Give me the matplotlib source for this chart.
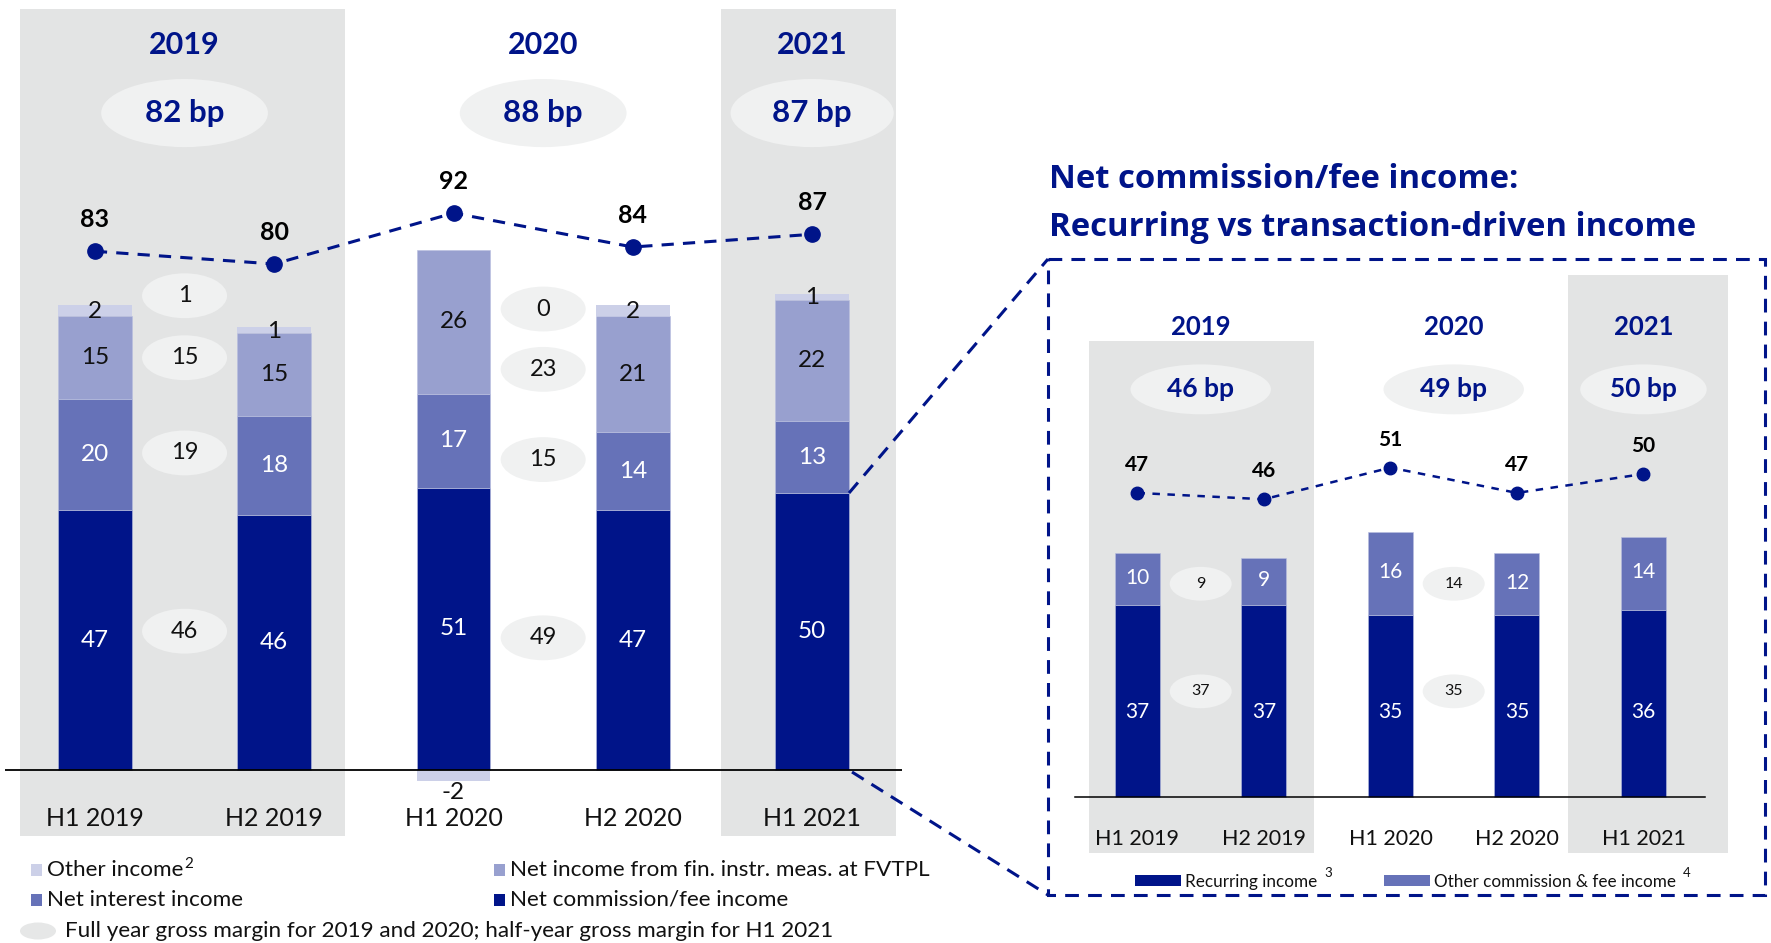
import matplotlib
matplotlib.use("Agg")
import matplotlib.pyplot as plt
from matplotlib.patches import Ellipse, Rectangle

plt.rcParams['font.family'] = ['Lato', 'DejaVu Sans']

# ---------------- data ----------------
periods = ["H1 2019", "H2 2019", "H1 2020", "H2 2020", "H1 2021"]
net_commission = [47, 46, 51, 47, 50]
net_interest = [20, 18, 17, 14, 13]
fvtpl = [15, 15, 26, 21, 22]
other_income = [2, 1, -2, 2, 1]
gross_margin_half = [83, 80, 92, 84, 87]

years = ["2019", "2020", "2021"]
year_margin = ["82 bp", "88 bp", "87 bp"]
fy2019_parts = [46, 19, 15, 1]   # commission, interest, fvtpl, other
fy2020_parts = [49, 15, 23, 0]

recurring = [37, 37, 35, 35, 36]
other_commission = [10, 9, 16, 12, 14]
commission_margin_half = [47, 46, 51, 47, 50]
year_commission_margin = ["46 bp", "49 bp", "50 bp"]
fy2019_comm_parts = [37, 9]
fy2020_comm_parts = [35, 14]

# ---------------- style ----------------
NAVY = "#001489"
NII = "#6672B8"
FV = "#98A0CF"
OTH = "#CCD0E8"
BAND = "#E3E4E4"
ELL = "#F0F1F1"
EDGE = "#B8BEDF"

W, H = 1771, 943
fig = plt.figure(figsize=(W / 100, H / 100), dpi=100)


def rect(x0, y0, x1, y1):
    return [x0 / W, 1 - y1 / H, (x1 - x0) / W, (y1 - y0) / H]


# ================= LEFT CHART =================
axL = fig.add_axes(rect(5.25, 9, 901.8, 836))
axL.set_xlim(-0.5, 4.5)
axL.set_ylim(-11.9, 137.5)
axL.axis("off")
axL.axvspan(-0.416, 1.392, color=BAND, zorder=0, lw=0)
axL.axvspan(3.49, 4.466, color=BAND, zorder=0, lw=0)

x = list(range(len(periods)))
bw = 0.41
b1 = net_commission
b2 = [a + b for a, b in zip(b1, net_interest)]
b3 = [a + b for a, b in zip(b2, fvtpl)]
axL.bar(x, net_commission, bw, color=NAVY, zorder=2, edgecolor=EDGE, lw=0.4)
axL.bar(x, net_interest, bw, bottom=b1, color=NII, zorder=2, edgecolor=EDGE, lw=0.4)
axL.bar(x, fvtpl, bw, bottom=b2, color=FV, zorder=2, edgecolor=EDGE, lw=0.4)
oth_bottom = [b3[i] if other_income[i] >= 0 else 0 for i in x]
axL.bar(x, other_income, bw, bottom=oth_bottom, color=OTH, zorder=2, lw=0)
axL.plot([-0.5, 4.5], [0, 0], color="black", lw=1.3, zorder=3)

lab_fs = 17.5
for i in x:
    axL.text(i, net_commission[i] / 2, str(net_commission[i]), ha="center", va="center",
             color="white", fontsize=lab_fs, zorder=4)
    axL.text(i, b1[i] + net_interest[i] / 2, str(net_interest[i]), ha="center", va="center",
             color="white", fontsize=lab_fs, zorder=4)
    axL.text(i, b2[i] + fvtpl[i] / 2, str(fvtpl[i]), ha="center", va="center",
             color="#111111", fontsize=lab_fs, zorder=4)
    o = other_income[i]
    if o >= 0:
        axL.text(i, b3[i] + o / 2 - 0.2, str(o), ha="center", va="center",
                 color="#111111", fontsize=lab_fs, zorder=4)
    else:
        axL.text(i, o - 2.0, str(o), ha="center", va="center",
                 color="#111111", fontsize=lab_fs, zorder=4)
    axL.text(i, -8.7, periods[i], ha="center", va="center", fontsize=18, color="#111111")

# year headers
year_x = [0.5, 2.5, 4.0]
year_w = [0.93, 0.93, 0.91]
for xx, yl, ym, ww in zip(year_x, years, year_margin, year_w):
    axL.text(xx, 131, yl, ha="center", va="center", fontsize=22, fontweight="bold", color=NAVY)
    axL.add_patch(Ellipse((xx, 118.7), ww, 12.3, color=ELL, lw=0, zorder=1))
    axL.text(xx, 118.7, ym, ha="center", va="center", fontsize=22.5, fontweight="bold", color=NAVY,
             zorder=2)

# full-year ellipses (layout positions)
for xx, parts, yy in [(0.5, fy2019_parts, [25.1, 57.3, 74.5, 85.7]),
                      (2.5, fy2020_parts, [23.9, 56.1, 72.4, 83.3])]:
    for v, yv in zip(parts, yy):
        axL.add_patch(Ellipse((xx, yv), 0.474, 8.1, color=ELL, lw=0, zorder=1))
        axL.text(xx, yv, str(v), ha="center", va="center", fontsize=17, color="#111111", zorder=2)

# gross margin line (own scale)
axL2 = axL.twinx()
axL2.set_ylim((603.6 - 836) / 4.245, (603.6 - 9) / 4.245)
axL2.set_xlim(-0.5, 4.5)
axL2.axis("off")
axL2.plot(x, gross_margin_half, color=NAVY, lw=2.2, ls=(0, (4, 3)), marker="o", ms=11, zorder=5)
for i in x:
    axL2.annotate(str(gross_margin_half[i]), (i, gross_margin_half[i]), xytext=(0, 23),
                  textcoords="offset points", ha="center", va="center", fontsize=18,
                  fontweight="bold", color="black")

# ================= RIGHT CHART =================
axR = fig.add_axes(rect(1074.2, 275, 1732, 853))
axR.set_xlim(-0.5, 4.7)
axR.set_ylim(-10.7, 100.5)
axR.axis("off")
axR.add_patch(Rectangle((-0.384, -10.7), 1.777, 98.55, color=BAND, lw=0, zorder=0))
axR.axvspan(3.40, 4.67, color=BAND, zorder=0, lw=0)

bwR = 0.356
axR.bar(x, recurring, bwR, color=NAVY, zorder=2, edgecolor=EDGE, lw=0.4)
axR.bar(x, other_commission, bwR, bottom=recurring, color=NII, zorder=2, edgecolor=EDGE, lw=0.4)
axR.plot([-0.493, 4.49], [0, 0], color="black", lw=1.1, zorder=3)
for i in x:
    axR.text(i, 16.5, str(recurring[i]), ha="center", va="center", color="white", fontsize=15, zorder=4)
    axR.text(i, recurring[i] + other_commission[i] / 2 + 0.3, str(other_commission[i]), ha="center",
             va="center", color="white", fontsize=15, zorder=4)
    axR.text(i, -8.0, periods[i], ha="center", va="center", fontsize=15.5, color="#111111")

yearR_x = [0.5, 2.5, 4.0]
for xx, yl, ym in zip(yearR_x, years, year_commission_margin):
    axR.text(xx, 90.4, yl, ha="center", va="center", fontsize=18.5, fontweight="bold", color=NAVY)
    axR.add_patch(Ellipse((xx, 78.5), 1.0 if yl == "2021" else 1.11, 9.6, color=ELL, lw=0, zorder=1))
    axR.text(xx, 78.5, ym, ha="center", va="center", fontsize=19, fontweight="bold", color=NAVY,
             zorder=2)

for xx, parts in [(0.5, fy2019_comm_parts), (2.5, fy2020_comm_parts)]:
    for v, yv in zip(parts, [20.4, 41.1]):
        axR.add_patch(Ellipse((xx, yv), 0.49, 6.5, color=ELL, lw=0, zorder=1))
        axR.text(xx, yv, str(v), ha="center", va="center", fontsize=11.5, color="#111111", zorder=2)

axR2 = axR.twinx()
axR2.set_xlim(-0.5, 4.7)
axR2.set_ylim((790.2 - 853) / 6.325, (790.2 - 275) / 6.325)
axR2.axis("off")
axR2.plot(x, commission_margin_half, color=NAVY, lw=1.8, ls=(0, (3, 3)), marker="o", ms=9, zorder=5)
for i in x:
    axR2.annotate(str(commission_margin_half[i]), (i, commission_margin_half[i]), xytext=(0, 20),
                  textcoords="offset points", ha="center", va="center", fontsize=15,
                  fontweight="bold", color="black")

# ================= OVERLAY =================
ov = fig.add_axes([0, 0, 1, 1], zorder=10)
ov.set_xlim(0, W)
ov.set_ylim(H, 0)
ov.axis("off")
ov.patch.set_alpha(0)

dash = (0, (4.5, 3))
ov.add_patch(Rectangle((1048, 259), 1765 - 1048, 895 - 259, fill=False, edgecolor=NAVY,
                       lw=2.2, ls=dash))
ov.plot([849, 1048], [493, 259], color=NAVY, lw=2.2, ls=dash)
ov.plot([852, 1048], [772, 895], color=NAVY, lw=2.2, ls=dash)

title_font = ['Open Sans', 'DejaVu Sans']
ov.text(1049, 179, "Net commission/fee income:", ha="left", va="center", fontsize=23.7,
        fontweight="bold", color=NAVY, family=title_font)
ov.text(1049, 227, "Recurring vs transaction-driven income", ha="left", va="center", fontsize=23.7,
        fontweight="bold", color=NAVY, family=title_font)

# left legend
leg_items = [
    (31, 870, OTH, "Other income", "2"),
    (494, 870, FV, "Net income from fin. instr. meas. at FVTPL", None),
    (31, 900, NII, "Net interest income", None),
    (494, 900, NAVY, "Net commission/fee income", None),
]
for lx, ly, c, t, sup in leg_items:
    ov.add_patch(Rectangle((lx, ly - 6), 11, 12, color=c, lw=0))
    tt = ov.text(lx + 16, ly, t, ha="left", va="center", fontsize=16.2, color="#111111")
    if sup:
        ov.annotate(sup, xy=(1, 0.45), xycoords=tt, xytext=(1, 0), textcoords="offset points",
                    ha="left", va="bottom", fontsize=11, color="#111111")
ov.add_patch(Ellipse((38, 931), 36, 17, color="#E6E7E7", lw=0))
ov.text(65, 931, "Full year gross margin for 2019 and 2020; half-year gross margin for H1 2021",
        ha="left", va="center", fontsize=16.2, color="#111111")

# right legend
for lx, c, t, sup in [(1135, NAVY, "Recurring income", "3"),
                      (1384, NII, "Other commission & fee income", "4")]:
    ov.add_patch(Rectangle((lx, 875), 46, 11, color=c, lw=0))
    tt = ov.text(lx + 50, 882, t, ha="left", va="center", fontsize=12.3, color="#111111")
    ov.annotate(sup, xy=(1, 0.7), xycoords=tt, xytext=(5, 0), textcoords="offset points",
                ha="left", va="bottom", fontsize=9.5, color="#111111")

fig.savefig("out.png", dpi=100)
